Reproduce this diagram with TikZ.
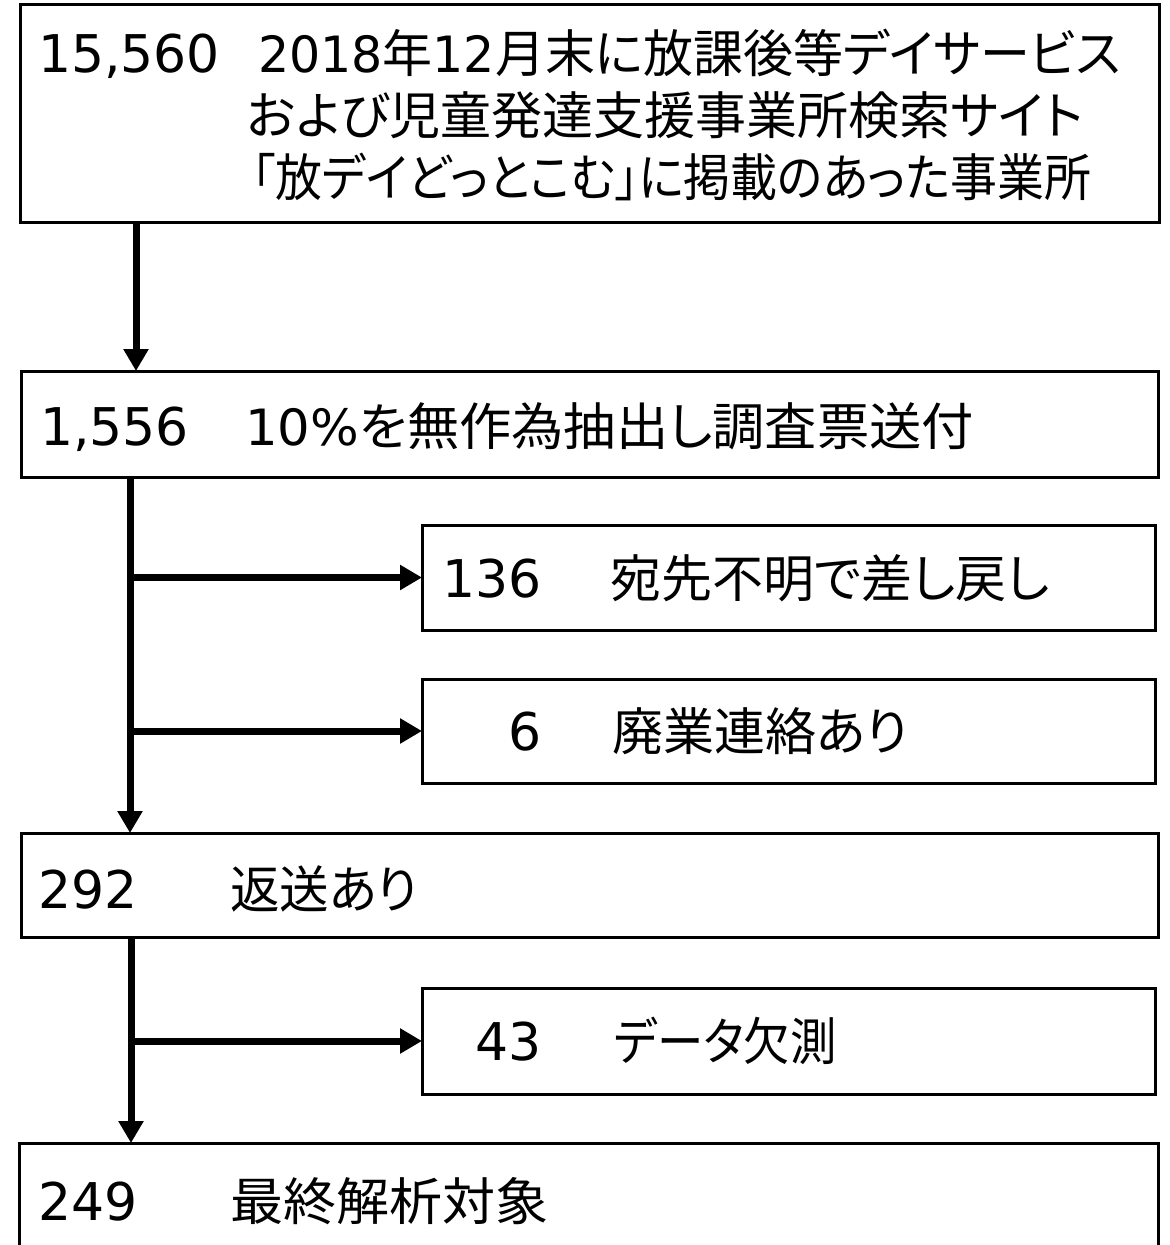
\documentclass[tikz,border=0pt]{standalone}
\usepackage{graphicx}
\usepackage{fontspec}
\setmainfont{DejaVu Sans}
\newfontfamily\jpfont{Noto Sans CJK JP}[RawFeature=+palt,Scale=1.02]
\newcommand{\jp}[1]{{\jpfont #1}}
\newcommand{\hs}[2]{\scalebox{#1}[1]{#2}}
\usetikzlibrary{arrows.meta}
\begin{document}
\begin{tikzpicture}[x=1pt,y=-1pt,
  box/.style={draw, line width=3pt, rectangle, anchor=north west, inner sep=0pt, outer sep=0pt},
  txt/.style={anchor=base west, inner sep=0pt, outer sep=0pt, font=\fontsize{50}{62}\selectfont},
  num/.style={txt, font=\fontsize{52}{62}\selectfont},
  conn/.style={line width=7pt, -{Triangle[length=22pt,width=24pt]}}
]
\fill[white] (0,0) rectangle (1170,1245);
\useasboundingbox (0,0) rectangle (1170,1245);
\clip (0,0) rectangle (1170,1245);

% boxes
\node[box, minimum width=1139pt, minimum height=218pt] (b1) at (20,4) {};
\node[box, minimum width=1137pt, minimum height=106pt] (b2) at (21,371) {};
\node[box, minimum width=733pt, minimum height=105pt] (b3) at (422,525) {};
\node[box, minimum width=733pt, minimum height=104pt] (b4) at (422,679) {};
\node[box, minimum width=1137pt, minimum height=104pt] (b5) at (21,833) {};
\node[box, minimum width=733pt, minimum height=106pt] (b6) at (422,988) {};
\node[box, minimum width=1139pt, minimum height=160pt] (b7) at (19,1143) {};

% texts
\node[num] (n1) at (38,72) {15,560};
\node[txt] (t1a) at (258,72) {\hs{0.98}{2018\jp{年}12\jp{月末に放課後等デイサービス}}};
\node[txt] (t1b) at (247,134) {\jp{および児童発達支援事業所検索サイト}};
\node[txt] (t1c) at (252,196) {\hs{0.92}{\jp{「放デイどっとこむ」に掲載のあった事業所}}};

\node[num] (n2) at (40,445) {1,556};
\node[txt] (t2) at (245,445) {\hs{1.025}{10\%\jp{を無作為抽出し調査票送付}}};

\node[num] (n3) at (442,597) {136};
\node[txt] (t3) at (610,597) {\jp{宛先不明で差し戻し}};

\node[num] (n4) at (508,750) {6};
\node[txt] (t4) at (612,750) {\jp{廃業連絡あり}};

\node[num] (n5) at (38,908) {292};
\node[txt] (t5) at (230,908) {\hs{0.97}{\jp{返送あり}}};

\node[num] (n6) at (475,1060) {43};
\node[txt] (t6) at (614,1060) {\hs{0.91}{\jp{データ欠測}}};

\node[num] (n7) at (38,1220) {249};
\node[txt] (t7) at (230,1220) {\hs{1.04}{\jp{最終解析対象}}};

% trunk positions
\coordinate (c1) at (136,0);
\coordinate (c2) at (130,0);
\coordinate (c3) at (131,0);

% connectors
\draw[conn] (b1.south -| c1) -- (b2.north -| c1);
\draw[conn] (b2.south -| c2) -- (b5.north -| c2);
\draw[conn] (b3.west -| c2) -- (b3.west);
\draw[conn] (b4.west -| c2) -- (b4.west);
\draw[conn] (b5.south -| c3) -- (b7.north -| c3);
\draw[conn] (b6.west -| c3) -- (b6.west);
\end{tikzpicture}
\end{document}
